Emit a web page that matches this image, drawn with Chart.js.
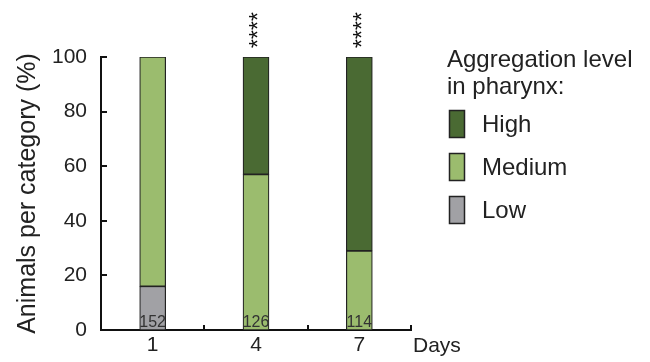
<!DOCTYPE html>
<html>
<head>
<meta charset="utf-8">
<script src="https://cdn.jsdelivr.net/npm/chart.js@4.4.0/dist/chart.umd.min.js"></script>
<style>
  body { margin: 0; background: #fff; }
  #wrap { width: 650px; height: 362px; }
</style>
</head>
<body>
<div id="wrap"><canvas id="aggChart" width="650" height="362"></canvas></div>
<script>
        // data
        const days = ['1', '4', '7'];
        const lowPct = [16, 0, 0];
        const mediumPct = [84, 57, 29];
        const highPct = [0, 43, 71];
        const nAnimals = [152, 126, 114];
        const signif = ['', '****', '****'];
        const yTicks = [0, 20, 40, 60, 80, 100];

        const FONT = "'Liberation Sans', Arial, sans-serif";
        const INK = '#222';

        // inward tick marks, "Days" label, n counts and stars
        const extrasPlugin = {
            id: 'extras',
            afterDatasetsDraw(chart) {
                const ctx = chart.ctx;
                const area = chart.chartArea;
                const x = chart.scales.x;
                const y = chart.scales.y;
                ctx.save();
                ctx.strokeStyle = '#111';
                ctx.lineWidth = 2;
                yTicks.forEach(v => {
                    const py = Math.round(y.getPixelForValue(v));
                    ctx.beginPath();
                    ctx.moveTo(area.left, py);
                    ctx.lineTo(area.left + 6, py);
                    ctx.stroke();
                });
                const step = (area.right - area.left) / days.length;
                for (let i = 1; i <= days.length; i++) {
                    const px = Math.round(area.left + step * i);
                    ctx.beginPath();
                    ctx.moveTo(px, area.bottom);
                    ctx.lineTo(px, area.bottom - 5);
                    ctx.stroke();
                }

                const meta = chart.getDatasetMeta(0);
                const base = y.getPixelForValue(0);
                const top = y.getPixelForValue(100);
                ctx.fillStyle = '#333';
                ctx.font = '16px ' + FONT;
                ctx.textAlign = 'center';
                ctx.textBaseline = 'alphabetic';
                meta.data.forEach((bar, i) => {
                    ctx.fillText(String(nAnimals[i]), bar.x, base - 3);
                });

                ctx.fillStyle = '#111';
                ctx.font = '23px ' + FONT;
                meta.data.forEach((bar, i) => {
                    if (!signif[i]) return;
                    ctx.save();
                    ctx.translate(bar.x, top - 27);
                    ctx.rotate(-Math.PI / 2);
                    ctx.textAlign = 'center';
                    ctx.textBaseline = 'middle';
                    ctx.fillText(signif[i], 0, 4);
                    ctx.restore();
                });

                ctx.fillStyle = INK;
                ctx.font = '21px ' + FONT;
                ctx.textAlign = 'left';
                ctx.fillText('Days', area.right + 2, base + 22);
                ctx.restore();
            }
        };

        // custom legend on the right
        const legendPlugin = {
            id: 'sideLegend',
            afterDraw(chart) {
                const ctx = chart.ctx;
                ctx.save();
                ctx.fillStyle = INK;
                ctx.font = '24px ' + FONT;
                ctx.textAlign = 'left';
                ctx.textBaseline = 'alphabetic';
                ctx.fillText('Aggregation level', 447, 67);
                ctx.fillText('in pharynx:', 447, 94);
                const items = chart.data.datasets.slice().reverse();
                items.forEach((ds, i) => {
                    const by = 110 + i * 43;
                    ctx.fillStyle = ds.backgroundColor;
                    ctx.fillRect(449, by, 16, 28);
                    ctx.strokeStyle = '#222';
                    ctx.lineWidth = 1.5;
                    ctx.strokeRect(449.5, by + 0.5, 15, 27);
                    ctx.fillStyle = INK;
                    ctx.textBaseline = 'middle';
                    ctx.fillText(ds.label, 482, by + 15);
                });
                ctx.restore();
            }
        };

        const ctx = document.getElementById('aggChart').getContext('2d');
        new Chart(ctx, {
            type: 'bar',
            data: {
                labels: days,
                datasets: [
                    { label: 'Low', data: lowPct, backgroundColor: '#a1a1a5' },
                    { label: 'Medium', data: mediumPct, backgroundColor: '#9bbc6e' },
                    { label: 'High', data: highPct, backgroundColor: '#4a6a33' }
                ].map(ds => Object.assign(ds, {
                    borderColor: '#222',
                    borderWidth: 1.2,
                    borderSkipped: false,
                    barThickness: 26
                }))
            },
            options: {
                responsive: false,
                animation: false,
                layout: { padding: { left: 0, top: 57, right: 239, bottom: 0 } },
                plugins: {
                    legend: { display: false },
                    tooltip: { enabled: false }
                },
                scales: {
                    x: {
                        stacked: true,
                        grid: { display: false, drawTicks: false },
                        border: { display: true, color: '#111', width: 2 },
                        ticks: { color: INK, font: { family: FONT, size: 21 }, padding: 3 },
                        afterFit: scale => { scale.height = 32; }
                    },
                    y: {
                        stacked: true,
                        min: 0,
                        max: 100,
                        grid: { display: false, drawTicks: false },
                        border: { display: true, color: '#111', width: 2 },
                        ticks: { stepSize: 20, color: INK, font: { family: FONT, size: 21 }, padding: 14 },
                        title: {
                            display: true,
                            text: 'Animals per category (%)',
                            color: INK,
                            font: { family: FONT, size: 25 },
                            padding: { top: 13, bottom: 0 }
                        },
                        afterFit: scale => { scale.width = 101; }
                    }
                }
            },
            plugins: [extrasPlugin, legendPlugin]
        });
</script>
</body>
</html>
